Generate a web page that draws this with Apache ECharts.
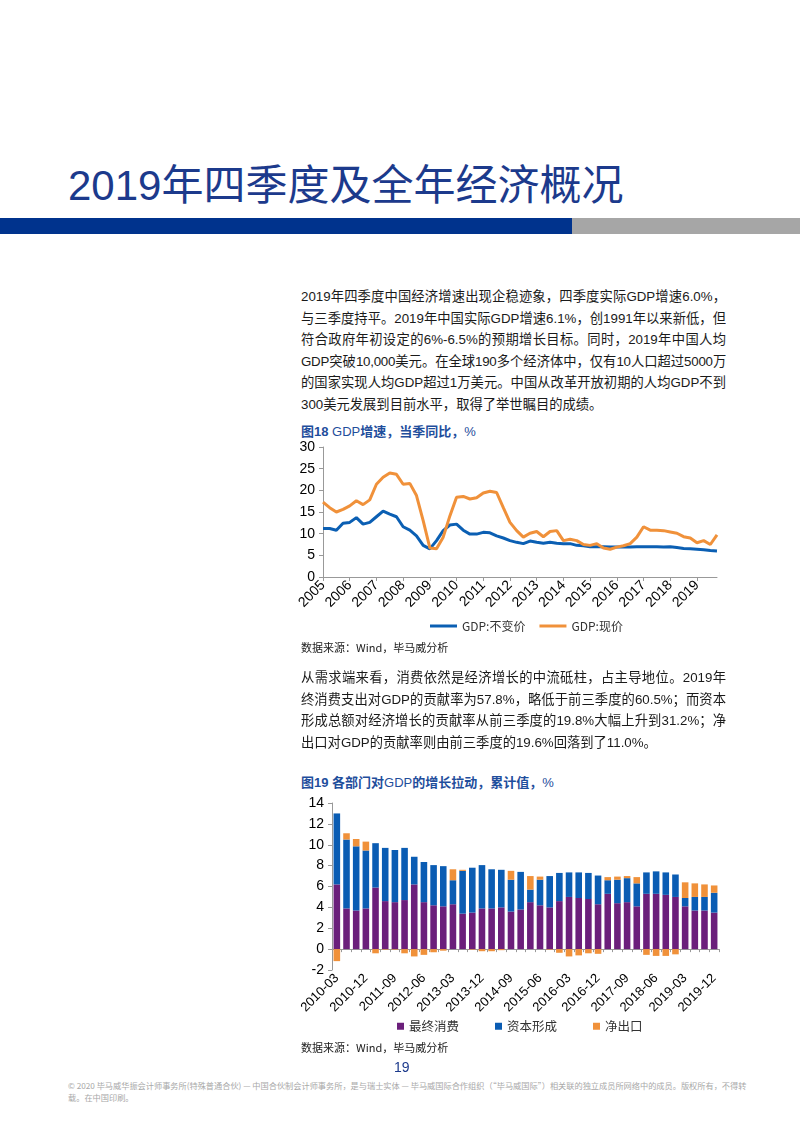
<!DOCTYPE html>
<html>
<head>
<meta charset="utf-8">
<script src="https://cdn.jsdelivr.net/npm/echarts@6/dist/echarts.min.js"></script>
<style>
  body { margin: 0; background: #fff; }
  #page { position: relative; width: 800px; height: 1122px; overflow: hidden;
          font-family: "Liberation Sans", "Noto Sans CJK SC", sans-serif; background: #fff; }
  .abs { position: absolute; }
  .title { left: 68px; top: 162px; font-size: 42px; line-height: 48px; color: #1c3a8c; white-space: nowrap; }
  .band1 { left: 0; top: 218px; width: 572px; height: 16px; background: #00338d; }
  .band2 { left: 572px; top: 218px; width: 228px; height: 16px; background: #a6a6a6; }
  .para { left: 301px; width: 425px; font-size: 13.3px; color: #1a1a1a; }
  .para div { height: 21.5px; line-height: 21.5px; overflow: hidden; text-align: justify; text-align-last: justify; }
  .para div.last { text-align-last: left; }
  .figt { left: 301px; font-size: 13px; font-weight: bold; color: #1f4e9c; white-space: nowrap; line-height: 16px; }
  .figt span { font-weight: normal; }
  .src { left: 301px; font-size: 11px; color: #1a1a1a; white-space: nowrap; line-height: 14px; font-family: "Noto Sans CJK SC", sans-serif; }
  .pnum { left: 394px; top: 1059px; font-size: 14px; color: #1c3a8c; line-height: 16px; }
  .foot { left: 68px; top: 1079px; font-size: 8.2px; line-height: 12px; color: #a8a8a8; white-space: nowrap; font-family: "Noto Sans CJK SC", sans-serif; }
  #c1 { left: 290px; top: 440px; width: 450px; height: 200px; }
  #c2 { left: 290px; top: 790px; width: 450px; height: 250px; }
</style>
</head>
<body>
<div id="page">
  <div class="abs title">2019年四季度及全年经济概况</div>
  <div class="abs band1"></div>
  <div class="abs band2"></div>

  <div class="abs para" style="top:286px">
    <div>2019年四季度中国经济增速出现企稳迹象，四季度实际GDP增速6.0%，</div>
    <div>与三季度持平。2019年中国实际GDP增速6.1%，创1991年以来新低，但</div>
    <div>符合政府年初设定的6%-6.5%的预期增长目标。同时，2019年中国人均</div>
    <div style="letter-spacing:-0.25px">GDP突破10,000美元。在全球190多个经济体中，仅有10人口超过5000万</div>
    <div>的国家实现人均GDP超过1万美元。中国从改革开放初期的人均GDP不到</div>
    <div class="last">300美元发展到目前水平，取得了举世瞩目的成绩。</div>
  </div>

  <div class="abs figt" style="top:424px">图18 <span>GDP</span>增速，当季同比，<span>%</span></div>
  <div id="c1" class="abs"></div>
  <div class="abs src" style="top:640px">数据来源：Wind，毕马威分析</div>

  <div class="abs para" style="top:667px">
    <div>从需求端来看，消费依然是经济增长的中流砥柱，占主导地位。2019年最</div>
    <div>终消费支出对GDP的贡献率为57.8%，略低于前三季度的60.5%；而资本</div>
    <div>形成总额对经济增长的贡献率从前三季度的19.8%大幅上升到31.2%；净</div>
    <div class="last">出口对GDP的贡献率则由前三季度的19.6%回落到了11.0%。</div>
  </div>

  <div class="abs figt" style="top:775px">图19 各部门对<span>GDP</span>的增长拉动，累计值，<span>%</span></div>
  <div id="c2" class="abs"></div>
  <div class="abs src" style="top:1040px">数据来源：Wind，毕马威分析</div>

  <div class="abs pnum">19</div>
  <div class="abs foot">© 2020 毕马威华振会计师事务所(特殊普通合伙) — 中国合伙制会计师事务所，是与瑞士实体 — 毕马威国际合作组织（“毕马威国际”）相关联的独立成员所网络中的成员。版权所有，不得转<br>载。在中国印刷。</div>
</div>

<script>
// ---------- Figure 18 data: GDP growth, quarterly y/y, % ----------
const lineYears = ['2005','2006','2007','2008','2009','2010','2011','2012','2013','2014','2015','2016','2017','2018','2019'];
// one category per quarter: Q1 carries the bare year (shown as tick label)
const lineQuarters = [];
lineYears.forEach(function (y) { lineQuarters.push(y, y + 'Q2', y + 'Q3', y + 'Q4'); });

const gdpReal = [
  11.2, 11.2, 10.8, 12.4,
  12.6, 13.7, 12.2, 12.6,
  13.9, 15.2, 14.5, 13.9,
  11.6, 10.8, 9.5, 7.3,
  6.5, 8.4, 10.7, 12.0,
  12.2, 10.8, 9.9, 9.9,
  10.3, 10.2, 9.5, 9.0,
  8.4, 8.0, 7.7, 8.3,
  8.0, 7.8, 8.0, 7.8,
  7.7, 7.7, 7.3, 7.2,
  7.0, 7.0, 7.0, 6.9,
  6.9, 6.9, 6.9, 7.0,
  7.0, 7.0, 7.0, 6.9,
  7.0, 6.8, 6.6, 6.5,
  6.4, 6.3, 6.1, 6.0
];
const gdpNominal = [
  17.3, 16.0, 15.0, 15.6,
  16.4, 17.6, 16.7, 17.8,
  21.4, 23.0, 24.0, 23.7,
  21.4, 21.6, 18.8, 13.0,
  6.7, 6.5, 9.2, 14.1,
  18.4, 18.6, 18.0, 18.3,
  19.4, 19.8, 19.5, 16.0,
  12.6, 10.7, 9.2, 10.1,
  10.5, 9.3, 10.5, 10.7,
  8.4, 8.7, 8.4, 7.5,
  7.3, 7.7, 6.7, 6.4,
  6.9, 7.2, 7.7, 9.2,
  11.6, 10.8, 10.8, 10.7,
  10.4, 10.1, 9.3, 9.0,
  7.9, 8.4, 7.5, 9.7
];
const lineSeriesNames = ['GDP:不变价', 'GDP:现价'];

// ---------- Figure 19 data: contribution to GDP growth, cumulative, % ----------
const barYears = ['2010','2011','2012','2013','2014','2015','2016','2017','2018','2019'];
const barCats = [];
barYears.forEach(function (y) { ['03','06','09','12'].forEach(function (m) { barCats.push(y + '-' + m); }); });

const consumption = [
  6.2, 3.9, 3.7, 3.9,
  5.9, 4.6, 4.5, 4.7,
  6.2, 4.5, 4.2, 4.1,
  4.3, 3.4, 3.5, 3.9,
  3.9, 4.0, 3.6, 3.8,
  4.5, 4.2, 4.0, 4.6,
  5.0, 4.9, 4.8, 4.3,
  5.3, 4.4, 4.5, 4.1,
  5.3, 5.3, 5.2, 5.0,
  4.1, 3.7, 3.7, 3.5
];
const capital = [
  6.8, 6.6, 6.15, 5.55,
  4.25, 5.1, 5.0, 5.0,
  2.65, 3.85, 3.85, 3.85,
  2.3, 4.1, 4.3, 4.15,
  3.75, 3.6, 3.05, 3.6,
  1.2, 2.45, 3.0, 2.7,
  2.35, 2.45, 2.5, 2.75,
  1.3, 2.25, 2.3, 2.2,
  2.05, 2.15, 2.15, 2.15,
  0.8, 1.3, 1.3, 1.9
];
const netExports = [
  -1.15, 0.6, 0.7, 0.85,
  -0.4, -0.05, -0.05, -0.4,
  -0.7, -0.55, -0.3, -0.15,
  1.05, 0.1, -0.05, -0.2,
  -0.2, -0.1, 0.85, 0.0,
  1.3, 0.3, -0.05, -0.35,
  -0.7, -0.6, -0.4, -0.45,
  0.3, 0.3, 0.2, 0.6,
  -0.55, -0.65, -0.65, -0.5,
  1.5, 1.3, 1.2, 0.7
];
const barSeriesNames = ['最终消费', '资本形成', '净出口'];

// ---------- styles ----------
const BLUE = '#0b5fb3', ORANGE = '#f0913a', PURPLE = '#6b1f7b', BARBLUE = '#0a5cb3';
const AXIS = '#999999';
const NUMFONT = 'Liberation Sans';
const CJKFONT = 'Noto Sans CJK SC';

const c1 = echarts.init(document.getElementById('c1'));
c1.setOption({
  animation: false,
  grid: { left: 33, right: 23, top: 5, bottom: 63 },
  legend: {
    left: 135, top: 175, icon: 'rect', itemWidth: 27, itemHeight: 3, itemGap: 14,
    textStyle: { fontSize: 12, color: '#333', fontFamily: CJKFONT },
    data: lineSeriesNames
  },
  xAxis: {
    type: 'category', boundaryGap: false, data: lineQuarters,
    axisLine: { lineStyle: { color: AXIS } },
    axisTick: { interval: 3, length: 4, lineStyle: { color: AXIS } },
    axisLabel: { interval: 3, rotate: 45, margin: 6, fontSize: 14, color: '#000', fontFamily: NUMFONT }
  },
  yAxis: {
    type: 'value', min: 0, max: 30, interval: 5,
    axisLine: { show: true, lineStyle: { color: AXIS } },
    axisTick: { show: true, length: 4, lineStyle: { color: AXIS } },
    splitLine: { show: false },
    axisLabel: { fontSize: 14, color: '#000', fontFamily: NUMFONT, margin: 8 }
  },
  series: [
    { name: lineSeriesNames[0], type: 'line', data: gdpReal, showSymbol: false, symbol: 'none',
      lineStyle: { width: 3, color: BLUE }, itemStyle: { color: BLUE } },
    { name: lineSeriesNames[1], type: 'line', data: gdpNominal, showSymbol: false, symbol: 'none',
      lineStyle: { width: 3, color: ORANGE }, itemStyle: { color: ORANGE } }
  ]
});

const c2 = echarts.init(document.getElementById('c2'));
c2.setOption({
  animation: false,
  grid: { left: 42, right: 21, top: 13, bottom: 70 },
  legend: {
    left: 102, top: 225, icon: 'rect', itemWidth: 7, itemHeight: 7, itemGap: 36,
    textStyle: { fontSize: 12.5, color: '#333', fontFamily: CJKFONT },
    data: barSeriesNames
  },
  xAxis: [
    { type: 'category', data: barCats, position: 'bottom',
      axisLine: { show: false, onZero: false }, axisTick: { show: false },
      axisLabel: { interval: 2, rotate: 45, margin: 6, fontSize: 13, color: '#000', fontFamily: NUMFONT } },
    { type: 'category', data: barCats, position: 'top',
      axisLine: { show: true, onZero: true, lineStyle: { color: AXIS } },
      axisTick: { show: true, inside: true, interval: 0, length: 3, lineStyle: { color: AXIS } },
      axisLabel: { show: false } }
  ],
  yAxis: {
    type: 'value', min: -2, max: 14, interval: 2,
    axisLine: { show: true, lineStyle: { color: AXIS } },
    axisTick: { show: true, length: 4, lineStyle: { color: AXIS } },
    splitLine: { show: false },
    axisLabel: { fontSize: 14, color: '#000', fontFamily: NUMFONT, margin: 8 }
  },
  series: [
    { name: barSeriesNames[0], type: 'bar', stack: 'gdp', data: consumption, barCategoryGap: '32%',
      itemStyle: { color: PURPLE } },
    { name: barSeriesNames[1], type: 'bar', stack: 'gdp', data: capital,
      itemStyle: { color: BARBLUE } },
    { name: barSeriesNames[2], type: 'bar', stack: 'gdp', data: netExports,
      itemStyle: { color: ORANGE } }
  ]
});
</script>
</body>
</html>
